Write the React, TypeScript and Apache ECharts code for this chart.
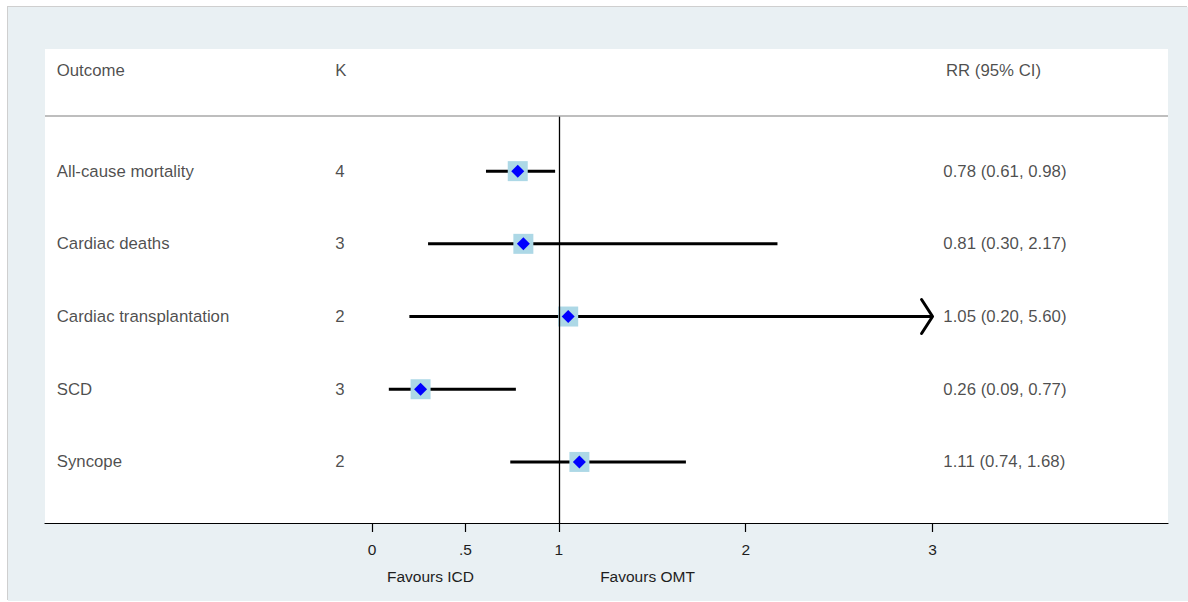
import React, { useEffect, useRef } from "react";
import * as echarts from "echarts";

// Forest plot data: ICD vs OMT
const outcomes = [
  "All-cause mortality",
  "Cardiac deaths",
  "Cardiac transplantation",
  "SCD",
  "Syncope",
];
const studies = [4, 3, 2, 3, 2];
const rr = [0.78, 0.81, 1.05, 0.26, 1.11];
const ciLow = [0.61, 0.3, 0.2, 0.09, 0.74];
const ciHigh = [0.98, 2.17, 5.6, 0.77, 1.68];
const tickValues = [0, 0.5, 1, 2, 3];
const headers = ["Outcome", "K", "RR (95% CI)"];
const favourLabels = ["Favours ICD", "Favours OMT"];

// Layout (axis units)
const X_MIN = -1.75;
const X_MAX = 4.26;
const X_CAP = 3; // intervals beyond this get an arrow
const Y_MIN = -1.68;
const Y_MAX = 4.84;
const Y_HEADER = -1.39;
const Y_RULE = -0.76;
const COL_OUTCOME = -1.69;
const COL_K = -0.2;
const COL_RR = 3.055;

const FONT = '"Liberation Sans", Arial, Helvetica, sans-serif';
const TEXT = "#1e1e1e";
const ROW_FONT_SIZE = 16.8;
const AXIS_FONT_SIZE = 15.5;

const fmt = (v: number) => v.toFixed(2);

export default function App() {
  const ref = useRef<HTMLDivElement>(null);

  useEffect(() => {
    if (!ref.current) return;
    const chart = echarts.init(ref.current, null, { renderer: "svg" });

    const rows = outcomes.map((_, i) => i);
    const ciData = rows.map((i) => [i, ciLow[i], ciHigh[i]]);
    const pointData = rows.map((i) => [rr[i], i]);

    const textData: any[] = [];
    textData.push([COL_OUTCOME, Y_HEADER, headers[0]]);
    textData.push([COL_K, Y_HEADER, headers[1]]);
    textData.push([COL_RR + 0.014, Y_HEADER, headers[2]]);
    rows.forEach((i) => {
      textData.push([COL_OUTCOME, i, outcomes[i]]);
      textData.push([COL_K, i, String(studies[i])]);
      textData.push([
        COL_RR,
        i,
        `${fmt(rr[i])} (${fmt(ciLow[i])}, ${fmt(ciHigh[i])})`,
      ]);
    });

    chart.setOption({
      animation: false,
      backgroundColor: "#e9f0f3",
      textStyle: { fontFamily: FONT },
      grid: {
        left: 37,
        right: 20,
        top: 42,
        bottom: 78,
        show: true,
        backgroundColor: "#ffffff",
        borderWidth: 0,
      },
      xAxis: {
        type: "value",
        min: X_MIN,
        max: X_MAX,
        position: "bottom",
        axisLine: { show: true, onZero: false, lineStyle: { color: "#000", width: 1.2 } },
        axisTick: {
          show: true,
          customValues: tickValues,
          length: 9,
          lineStyle: { color: "#000", width: 1.2 },
        },
        axisLabel: {
          show: true,
          customValues: tickValues,
          margin: 18,
          color: TEXT,
          fontSize: AXIS_FONT_SIZE,
          fontFamily: FONT,
          formatter: (v: number) => (v === 0.5 ? ".5" : String(v)),
        },
        splitLine: { show: false },
      },
      yAxis: {
        type: "value",
        min: Y_MIN,
        max: Y_MAX,
        inverse: true,
        show: false,
        splitLine: { show: false },
      },
      graphic: [
        {
          type: "text",
          x: 422.5,
          y: 569,
          style: {
            text: favourLabels[0],
            fill: TEXT,
            font: `${AXIS_FONT_SIZE}px ${FONT}`,
            align: "center",
            verticalAlign: "middle",
          },
        },
        {
          type: "text",
          x: 639.5,
          y: 569,
          style: {
            text: favourLabels[1],
            fill: TEXT,
            font: `${AXIS_FONT_SIZE}px ${FONT}`,
            align: "center",
            verticalAlign: "middle",
          },
        },
      ],
      series: [
        {
          name: "ci",
          type: "custom",
          z: 3,
          silent: true,
          encode: { x: [1, 2], y: 0 },
          data: ciData,
          renderItem: (params: any, api: any) => {
            const i = api.value(0);
            const lo = api.value(1);
            const hi = api.value(2);
            const p0 = api.coord([lo, i]);
            const p1 = api.coord([Math.min(hi, X_CAP), i]);
            const children: any[] = [
              {
                type: "line",
                shape: { x1: p0[0], y1: p0[1], x2: p1[0], y2: p1[1] },
                style: { stroke: "#000", lineWidth: 3 },
              },
            ];
            if (hi > X_CAP) {
              children.push({
                type: "polyline",
                shape: {
                  points: [
                    [p1[0] - 11, p1[1] - 17],
                    [p1[0], p1[1]],
                    [p1[0] - 11, p1[1] + 17],
                  ],
                },
                style: { stroke: "#000", lineWidth: 3, fill: "none", lineJoin: "round", lineCap: "round" },
              });
            }
            return { type: "group", children };
          },
          markLine: {
            silent: true,
            symbol: "none",
            label: { show: false },
            data: [
              [
                { coord: [1, Y_RULE], lineStyle: { color: "#000", width: 1.3, type: "solid" } },
                { coord: [1, Y_MAX] },
              ],
              [
                { coord: [X_MIN, Y_RULE], lineStyle: { color: "#a8a8a8", width: 1.5, type: "solid" } },
                { coord: [X_MAX, Y_RULE] },
              ],
            ],
          },
        },
        {
          name: "weight",
          type: "scatter",
          z: 4,
          silent: true,
          symbol: "rect",
          symbolSize: 20,
          itemStyle: { color: "#add8e6", opacity: 1 },
          data: pointData,
        },
        {
          name: "RR",
          type: "scatter",
          z: 5,
          silent: true,
          symbol: "diamond",
          symbolSize: 13,
          itemStyle: { color: "#0000ff", opacity: 1 },
          data: pointData,
        },
        {
          name: "text",
          type: "scatter",
          z: 6,
          silent: true,
          symbolSize: 1,
          itemStyle: { color: "rgba(0,0,0,0)" },
          data: textData,
          label: {
            show: true,
            position: "right",
            distance: 0,
            color: TEXT,
            fontSize: ROW_FONT_SIZE,
            fontFamily: FONT,
            formatter: (p: any) => p.value[2],
          },
        },
      ],
    });

    return () => chart.dispose();
  }, []);

  return (
    <div
      style={{
        position: "fixed",
        left: 0,
        top: 0,
        width: 1188,
        height: 602,
        background: "#ffffff",
      }}
    >
      <div
        ref={ref}
        style={{
          position: "absolute",
          left: 8,
          top: 7,
          width: 1180,
          height: 594,
          boxShadow: "-1px -1px 0 #cfcfcf",
        }}
      />
    </div>
  );
}
